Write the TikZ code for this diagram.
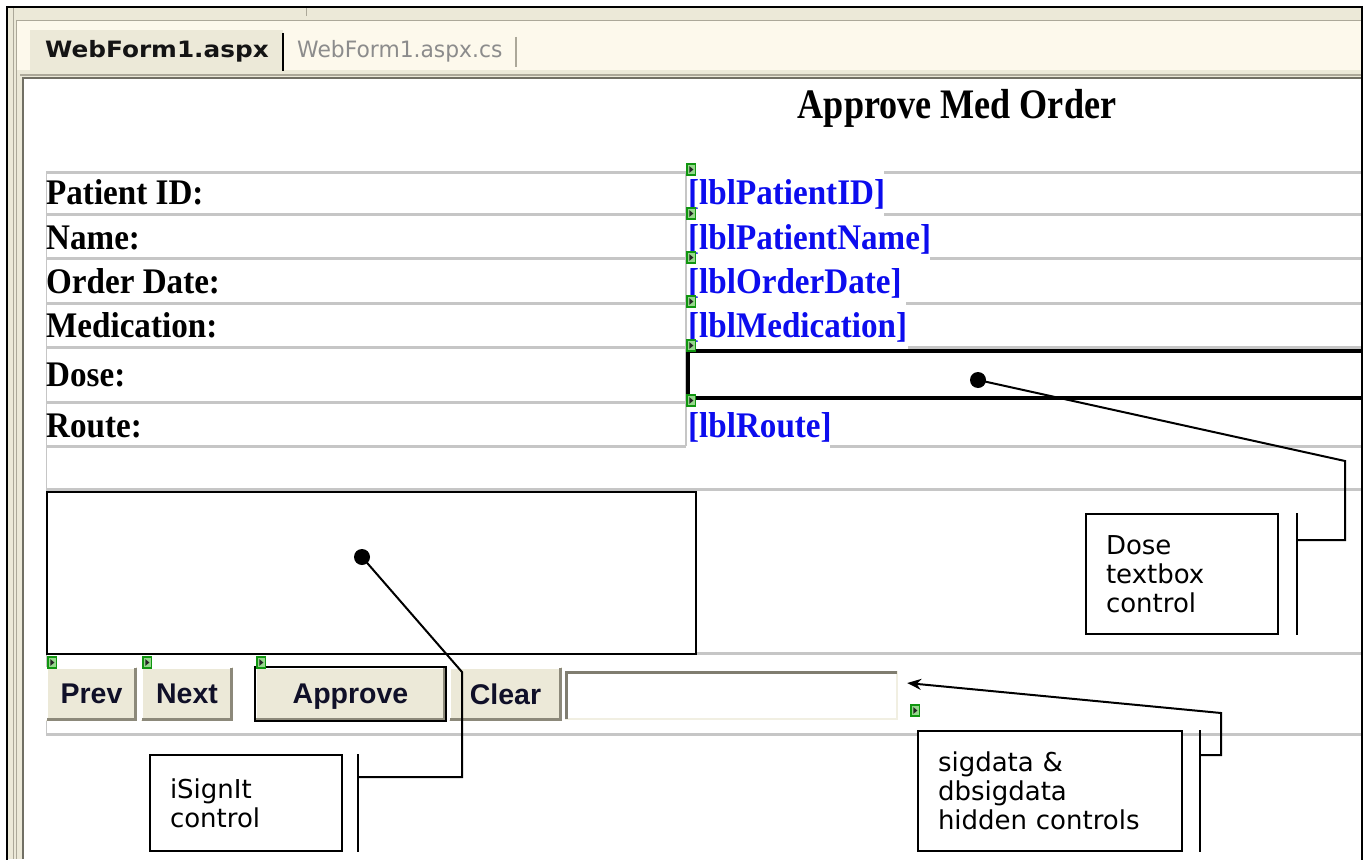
\documentclass[tikz,border=0pt]{standalone}
\usepackage{fontspec}
\usetikzlibrary{arrows.meta,calc}

% typefaces
\newfontfamily\titlefont[FakeStretch=0.86]{Liberation Serif}
\newfontfamily\formfont[FakeStretch=0.92]{Liberation Serif}
\newfontfamily\btnfont{Liberation Sans}
\newfontfamily\tabfont[FakeStretch=1.1]{DejaVu Sans}
\newfontfamily\tabfontlight[FakeStretch=0.97]{DejaVu Sans}
\newfontfamily\notefont{DejaVu Sans}

% colours
\definecolor{chrome}{RGB}{236,233,216}
\definecolor{cream}{RGB}{253,249,236}
\definecolor{chromeline}{RGB}{172,168,153}
\definecolor{chromedark}{RGB}{113,111,100}
\definecolor{gridgray}{RGB}{198,198,198}
\definecolor{formblue}{RGB}{12,12,238}
\definecolor{btnface}{RGB}{236,233,216}
\definecolor{btntext}{RGB}{16,16,40}
\definecolor{btnshade}{RGB}{140,137,122}
\definecolor{sunkdark}{RGB}{128,125,112}
\definecolor{sunklight}{RGB}{241,239,226}
\definecolor{flagedge}{RGB}{16,150,16}
\definecolor{flagfill}{RGB}{150,215,140}
\definecolor{tabgray}{RGB}{140,140,140}

\tikzset{
  grid/.style={draw=gridgray, line width=3pt},
  gridthin/.style={draw=gridgray, line width=1.5pt},
  formlabel/.style={anchor=base west, inner sep=0pt,
    font=\formfont\fontsize{36}{40}\selectfont\bfseries},
  bluelabel/.style={formlabel, text=formblue},
  btn/.style={fill=btnface, minimum height=54pt, inner sep=0pt, text depth=0pt,
    font=\btnfont\fontsize{28.5}{30}\selectfont\bfseries, text=btntext},
  note/.style={draw, line width=2pt, fill=white, inner xsep=20pt, inner ysep=0pt,
    align=left, font=\notefont\fontsize{26}{29}\selectfont},
  conn/.style={draw, line width=2pt},
  dot/.style={circle, fill=black, minimum size=16pt, inner sep=0pt},
  flag/.pic={
    \draw[flagedge, fill=flagfill, line width=1.6pt] (0.8,0.8) rectangle (9.6,12.2);
    \fill[black!85] (3.4,3.2) -- (7.4,6.5) -- (3.4,9.8) -- cycle;
  }
}

\begin{document}
\begin{tikzpicture}[x=1pt,y=-1pt]
\useasboundingbox (0,0) rectangle (1367,859);

% ---- window chrome ----
\fill[white] (0,0) rectangle (1367,859);
\fill[chrome] (8,8) rectangle (1361,859);
\fill[cream] (17,21) rectangle (1361,70);
\draw[chromeline, line width=1pt] (17,20.5) -- (1361,20.5);
\draw[chromeline, line width=1pt] (13.5,8) -- (13.5,859);
\draw[chromeline, line width=1pt] (16.5,20) -- (16.5,859);
\draw[chromeline, line width=1pt] (306,8) -- (306,16);

% tabs
\fill[chrome] (30,30) rectangle (283,72);
\node[anchor=base west, inner sep=0pt, text=black!92,
  font=\tabfont\fontsize{22.5}{26}\selectfont\bfseries] (tabaspx) at (45,58) {WebForm1.aspx};
\draw[black, line width=1.5pt] (283,33) -- (283,71);
\node[anchor=base west, inner sep=0pt, text=tabgray,
  font=\tabfontlight\fontsize{22.5}{26}\selectfont] (tabcs) at (297,58) {WebForm1.aspx.cs};
\draw[chromeline, line width=1.2pt] (516,37) -- (516,67);

% design surface
\fill[white] (22,78) rectangle (1361,859);
\draw[chromeline, line width=1.5pt] (20,75) -- (1361,75);
\draw[chromedark, line width=2pt] (23,859) -- (23,78) -- (1361,78);

% ---- form title ----
\node[anchor=base, inner sep=0pt,
  font=\titlefont\fontsize{42}{46}\selectfont\bfseries] (title) at (957,118) {Approve Med Order};

% ---- table rules ----
\foreach \yy in {172,214,258,303,347,402,446}
  \draw[grid] (46,\yy) -- (686,\yy);
\foreach \xs/\yy in {884/172,884/214,930/258,906/303,908/347,830/446}
  \draw[grid] (\xs,\yy) -- (1361,\yy);
\draw[grid] (46,489) -- (1361,489);
\draw[grid] (695,653) -- (1361,653);
\draw[grid] (46,734) -- (1361,734);
\draw[gridthin] (46.5,172) -- (46.5,489);
\draw[gridthin] (46.5,653) -- (46.5,734);
\draw[gridthin] (686,172) -- (686,446);

% ---- field captions ----
\node[formlabel] (capid)    at (46,204) {Patient ID:};
\node[formlabel] (capname)  at (46,249) {Name:};
\node[formlabel] (capdate)  at (46,293) {Order Date:};
\node[formlabel] (capmed)   at (46,337) {Medication:};
\node[formlabel] (capdose)  at (46,386) {Dose:};
\node[formlabel] (caproute) at (46,437) {Route:};

% ---- bound labels ----
\node[bluelabel] (lblid)    at (688,204) {[lblPatientID]};
\node[bluelabel] (lblname)  at (688,249) {[lblPatientName]};
\node[bluelabel] (lbldate)  at (688,293) {[lblOrderDate]};
\node[bluelabel] (lblmed)   at (688,337) {[lblMedication]};
\node[bluelabel] (lblroute) at (688,437) {[lblRoute]};

% dose text box
\fill[white] (688,351) rectangle (1361,398);
\draw[black, line width=3.5pt] (1361,351) -- (688,351) -- (688,398) -- (1361,398);

% signature pad
\node[draw, line width=2pt, fill=white, minimum width=649pt, minimum height=162pt,
  inner sep=0pt, anchor=north west] (signpad) at (46,491) {};

% ---- buttons ----
\node[btn, minimum width=91pt]  (prev)    at (91.5,694)  {Prev};
\node[btn, minimum width=92pt]  (next)    at (187,694)   {Next};
\node[btn, minimum width=191pt] (approve) at (350.5,694) {Approve};
\node[btn, minimum width=113pt] (clear)   at (505.5,694) {Clear};
\foreach \b in {prev,next,approve,clear}{
  \draw[white, line width=2pt] ([shift={(1,-1)}]\b.south west) -- ([shift={(1,1)}]\b.north west) -- ([shift={(-1,1)}]\b.north east);
  \draw[btnshade, line width=2.5pt] ([shift={(-1.5,1)}]\b.north east) -- ([shift={(-1.5,-1.5)}]\b.south east) -- ([shift={(1,-1.5)}]\b.south west);
}
\draw[black, line width=2.5pt] (approve.south west) rectangle (approve.north east);

% hidden field
\node[fill=white, minimum width=332pt, minimum height=48pt, inner sep=0pt] (sigfield) at (731,695) {};
\draw[sunklight, line width=1.5pt] (sigfield.north east) -- (sigfield.south east) -- (sigfield.south west);
\draw[sunkdark, line width=3pt] ([shift={(1.5,0)}]sigfield.south west) -- ([shift={(1.5,1.5)}]sigfield.north west) -- ([shift={(0,1.5)}]sigfield.north east);

% ---- control markers ----
\foreach \yy in {163,207,251,295,339,394}
  \pic at (686,\yy) {flag};
\pic at (47,656) {flag};
\pic at (142,656) {flag};
\pic at (256,656) {flag};
\pic at (910,704) {flag};

% ---- callouts ----
\node[dot] (dosedot) at (978,380) {};
\node[note, text width=152pt, minimum height=120pt] (dosenote) at (1182,574) {Dose\\textbox\\control};
\draw[conn] ($(dosenote.north east)+(18,0)$) -- ($(dosenote.south east)+(18,0)$);
\coordinate (dosebar) at ($(dosenote.east)+(18,-34)$);
\draw[conn] (dosedot.center) -- (1345,461) -- (1345,540) -- (dosebar);

\node[dot] (signdot) at (362,557) {};
\node[note, text width=152pt, minimum height=96pt] (signnote) at (246,803) {iSignIt\\control};
\draw[conn] ($(signnote.north east)+(15,0)$) -- ($(signnote.south east)+(15,0)$);
\coordinate (signbar) at ($(signnote.east)+(15,-26)$);
\draw[conn] (signdot.center) -- (462,672) -- (462,777) -- (signbar);

\node[note, text width=224pt, minimum height=120pt] (signote) at (1050,791) {sigdata \&\\dbsigdata\\hidden controls};
\draw[conn] ($(signote.north east)+(17,0)$) -- ($(signote.south east)+(17,0)$);
\coordinate (sigbar) at ($(signote.east)+(17,-36)$);
\draw[conn, -{Stealth[length=14pt,width=11pt]}] (sigbar) -- ++(21,0) -- ++(0,-42) -- ([shift={(10,-12)}]sigfield.east);

% ---- outer frame ----
\draw[black, line width=2pt] (7,870) -- (7,7) -- (1362,7) -- (1362,870);
\end{tikzpicture}
\end{document}
